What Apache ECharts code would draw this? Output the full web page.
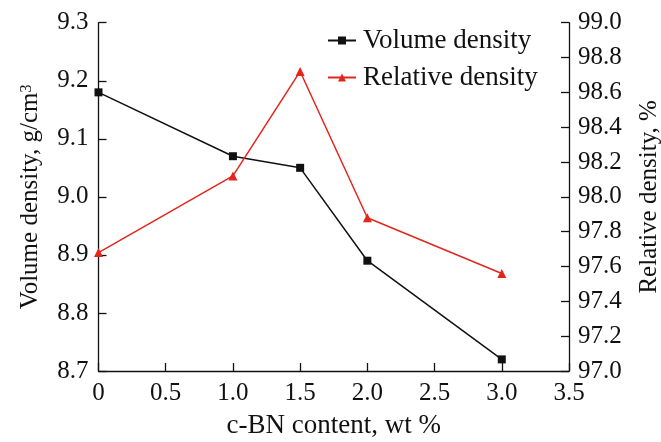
<!DOCTYPE html>
<html>
<head>
<meta charset="utf-8">
<script src="https://cdn.jsdelivr.net/npm/echarts@6/dist/echarts.min.js"></script>
<style>
  html, body { margin: 0; padding: 0; background: #fff; }
  #chart { width: 661px; height: 442px; }
</style>
</head>
<body>
<div id="chart"></div>
<script>
  // c-BN content, wt %
  const content = [0, 1.0, 1.5, 2.0, 3.0]
  const volumeDensity = [9.18, 9.07, 9.05, 8.89, 8.72]
  const relativeDensity = [97.68, 98.12, 98.72, 97.88, 97.56]

  const font = '"Liberation Serif", "DejaVu Serif", serif'
  const fs = 25
  const black = '#111111'
  const red = '#e3261d'

  const chart = echarts.init(document.getElementById('chart'))

  const axisCommon = {
    axisLine: { show: true, lineStyle: { color: black, width: 1.3 } },
    axisTick: { show: true, inside: true, length: 8, lineStyle: { color: black, width: 1.3 } },
    splitLine: { show: false },
    axisLabel: { color: black, fontFamily: font, fontSize: fs, formatter: v => v.toFixed(1) },
    nameLocation: 'middle',
    nameTextStyle: { color: black, fontFamily: font, fontSize: fs }
  }

  const option = {
    animation: false,
    grid: { left: 98.5, right: 92, top: 22.7, bottom: 71, containLabel: false, outerBoundsMode: 'none' },
    legend: {
      orient: 'vertical',
      left: 322,
      top: 22,
      itemWidth: 28,
      itemHeight: 10,
      itemGap: 10,
      textStyle: { color: black, fontFamily: font, fontSize: 27, padding: [0, 0, 0, 2] },
      data: ['Volume density', 'Relative density']
    },
    xAxis: Object.assign({}, axisCommon, {
      type: 'value',
      min: 0,
      max: 3.5,
      interval: 0.5,
      name: 'c-BN content, wt %',
      nameGap: 41,
      nameTextStyle: Object.assign({}, axisCommon.nameTextStyle, { fontSize: 27 }),
      axisLabel: Object.assign({}, axisCommon.axisLabel, {
        margin: 10,
        formatter: v => (v === 0 ? '0' : v.toFixed(1))
      })
    }),
    yAxis: [
      Object.assign({}, axisCommon, {
        type: 'value',
        position: 'left',
        min: 8.7,
        max: 9.3,
        interval: 0.1,
        name: 'Volume density, g/cm{sup|3}',
        nameGap: 55,
        nameRotate: 90,
        nameTextStyle: Object.assign({}, axisCommon.nameTextStyle, {
          rich: { sup: { fontFamily: font, fontSize: 16, verticalAlign: 'top', lineHeight: 16, padding: [0, 0, 12, 0], color: black } }
        }),
        axisLabel: Object.assign({}, axisCommon.axisLabel, { margin: 10 })
      }),
      Object.assign({}, axisCommon, {
        type: 'value',
        position: 'right',
        min: 97.0,
        max: 99.0,
        interval: 0.2,
        name: 'Relative density, %',
        nameGap: 68,
        nameRotate: 90,
        axisLabel: Object.assign({}, axisCommon.axisLabel, { margin: 9 })
      })
    ],
    series: [
      {
        name: 'Volume density',
        type: 'line',
        yAxisIndex: 0,
        data: content.map((x, i) => [x, volumeDensity[i]]),
        symbol: 'rect',
        symbolSize: 8,
        lineStyle: { color: black, width: 1.5 },
        itemStyle: { color: black }
      },
      {
        name: 'Relative density',
        type: 'line',
        yAxisIndex: 1,
        data: content.map((x, i) => [x, relativeDensity[i]]),
        symbol: 'triangle',
        symbolSize: 9,
        lineStyle: { color: red, width: 1.5 },
        itemStyle: { color: red }
      }
    ]
  }

  chart.setOption(option)
</script>
</body>
</html>
